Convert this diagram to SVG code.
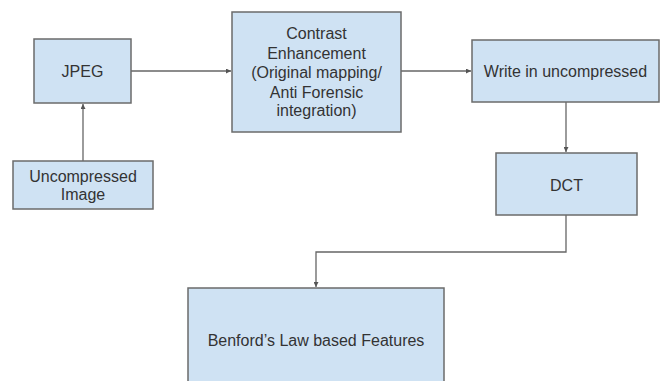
<svg xmlns="http://www.w3.org/2000/svg" width="666" height="381" viewBox="0 0 666 381">
  <defs>
    <marker id="arrow" viewBox="0 0 6 6" refX="6" refY="3" markerWidth="5" markerHeight="5" orient="auto" markerUnits="userSpaceOnUse">
      <path d="M0,0 L6,3 L0,6 Z" fill="#555"/>
    </marker>
    <style>
      .box { fill: #cfe2f3; stroke: #6b6b6b; stroke-width: 1.5; }
      .lbl { font-family: "Liberation Sans", Arial, sans-serif; font-size: 16px; fill: #333; text-anchor: middle; }
      .edge { fill: none; stroke: #666; stroke-width: 1.3; marker-end: url(#arrow); }
    </style>
  </defs>
  <rect width="666" height="381" fill="#fff"/>

  <g id="connectors">
    <path class="edge" d="M83,161 L83,104"/>
    <path class="edge" d="M131,71 L231,71"/>
    <path class="edge" d="M401,71 L471,71"/>
    <path class="edge" d="M566,102 L566,152"/>
    <path class="edge" d="M566,215 L566,252 L316,252 L316,287"/>
  </g>

  <g id="jpeg">
    <rect class="box" x="34" y="39" width="97" height="64"/>
    <text class="lbl" x="82.5" y="77">JPEG</text>
  </g>

  <g id="uncompressed-image">
    <rect class="box" x="13" y="161" width="140" height="48"/>
    <text class="lbl" x="83" y="182">Uncompressed</text>
    <text class="lbl" x="83" y="200">Image</text>
  </g>

  <g id="contrast-enhancement">
    <rect class="box" x="232" y="12" width="169" height="120"/>
    <text class="lbl" x="316.5" y="39">Contrast</text>
    <text class="lbl" x="316.5" y="58.5">Enhancement</text>
    <text class="lbl" x="316.5" y="78">(Original mapping/</text>
    <text class="lbl" x="316.5" y="97.5">Anti Forensic</text>
    <text class="lbl" x="316.5" y="116">integration)</text>
  </g>

  <g id="write-uncompressed">
    <rect class="box" x="472" y="40" width="187" height="62"/>
    <text class="lbl" x="565.5" y="77">Write in uncompressed</text>
  </g>

  <g id="dct">
    <rect class="box" x="496" y="153" width="141" height="62"/>
    <text class="lbl" x="566.5" y="191">DCT</text>
  </g>

  <g id="benford-features">
    <rect class="box" x="188" y="288" width="256" height="100"/>
    <text class="lbl" x="316" y="346">Benford’s Law based Features</text>
  </g>
</svg>
